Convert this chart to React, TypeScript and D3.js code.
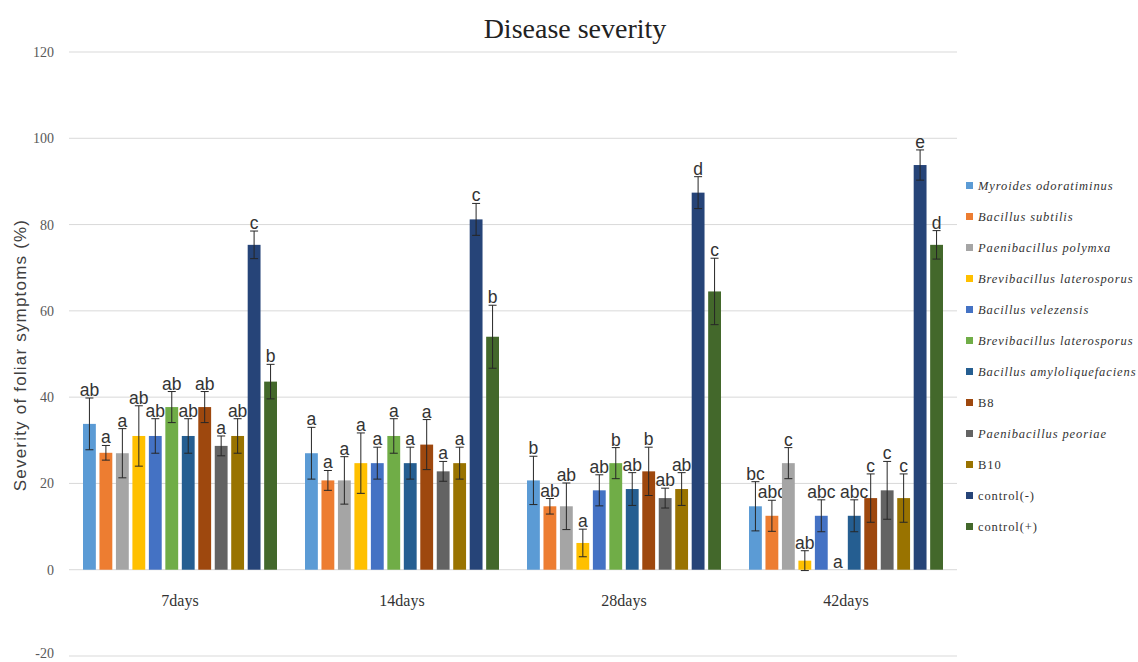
import React from "react";
import * as d3 from "d3";

// Sampling times (x categories)
const categories = ["7days", "14days", "28days", "42days"];

// Treatments, in plotting order
const seriesNames = [
  "Myroides odoratiminus",
  "Bacillus subtilis",
  "Paenibacillus polymxa",
  "Brevibacillus laterosporus",
  "Bacillus velezensis",
  "Brevibacillus laterosporus",
  "Bacillus amyloliquefaciens",
  "B8",
  "Paenibacillus peoriae",
  "B10",
  "control(-)",
  "control(+)",
];
const italicNames = [true, true, true, true, true, true, true, false, true, false, false, false];

const seriesColors = [
  "#5B9BD5", "#ED7D31", "#A5A5A5", "#FFC000", "#4472C4", "#70AD47",
  "#255E91", "#9E480E", "#636363", "#997300", "#264478", "#43682B",
];

// Mean severity (%) per treatment at each time point
const means7 = [33.8, 27.1, 27.0, 31.0, 31.0, 37.7, 31.0, 37.7, 28.7, 31.0, 75.3, 43.6];
const means14 = [27.0, 20.7, 20.7, 24.7, 24.7, 31.0, 24.7, 29.0, 22.8, 24.7, 81.2, 54.0];
const means28 = [20.7, 14.7, 14.7, 6.2, 18.4, 24.7, 18.7, 22.8, 16.6, 18.7, 87.4, 64.5];
const means42 = [14.7, 12.5, 24.7, 2.1, 12.5, 0, 12.5, 16.6, 18.4, 16.6, 93.8, 75.3];

// Standard errors
const err7 = [6.0, 1.7, 5.7, 7.0, 4.0, 3.6, 4.0, 3.6, 2.3, 4.0, 3.2, 4.0];
const err14 = [6.0, 2.3, 5.5, 7.0, 3.7, 4.0, 3.7, 5.8, 2.3, 3.7, 3.7, 7.3];
const err28 = [5.6, 1.8, 5.4, 3.2, 3.6, 3.6, 3.8, 5.6, 2.3, 3.8, 3.7, 7.7];
const err42 = [5.7, 3.6, 3.6, 2.3, 3.7, 0, 3.7, 5.6, 6.7, 5.6, 3.5, 3.3];

// Significance letters
const letters7 = ["ab", "a", "a", "ab", "ab", "ab", "ab", "ab", "a", "ab", "c", "b"];
const letters14 = ["a", "a", "a", "a", "a", "a", "a", "a", "a", "a", "c", "b"];
const letters28 = ["b", "ab", "ab", "a", "ab", "b", "ab", "b", "ab", "ab", "d", "c"];
const letters42 = ["bc", "abc", "c", "ab", "abc", "a", "abc", "c", "c", "c", "e", "d"];

const yTicks = [-20, 0, 20, 40, 60, 80, 100, 120];

const meansByCat = [means7, means14, means28, means42];
const errByCat = [err7, err14, err28, err42];
const lettersByCat = [letters7, letters14, letters28, letters42];

const W = 1138;
const H = 662;
const plotLeft = 69;
const plotRight = 957;

export default function App() {
  const y = d3.scaleLinear().domain([-20, 120]).range([656, 52]);
  const x0 = d3.scaleBand<string>().domain(categories).range([plotLeft, plotRight]);
  const x1 = d3
    .scaleBand<number>()
    .domain(d3.range(seriesNames.length))
    .range([14, 208])
    .paddingInner(0.22);

  const serif = "'Liberation Serif', 'DejaVu Serif', serif";
  const sans = "'Liberation Sans', Arial, sans-serif";

  return (
    <svg
      width={W}
      height={H}
      viewBox={`0 0 ${W} ${H}`}
      style={{ position: "absolute", left: 0, top: 0, background: "#fff" }}
    >
      <rect width={W} height={H} fill="#fff" />
      <text x={575} y={38} textAnchor="middle" fontFamily={serif} fontSize={28} fill="#222">
        Disease severity
      </text>

      {/* gridlines and y tick labels */}
      {yTicks.map((t) => (
        <g key={t}>
          <line x1={plotLeft} x2={plotRight} y1={y(t)} y2={y(t)} stroke="#D9D9D9" strokeWidth={1} />
          <text
            x={54}
            y={Math.min(y(t) + 5, 658)}
            textAnchor="end"
            fontFamily={serif}
            fontSize={14}
            fill="#595959"
          >
            {t}
          </text>
        </g>
      ))}

      <text
        transform={`translate(26, 355) rotate(-90)`}
        textAnchor="middle"
        fontFamily={sans}
        fontSize={17}
        letterSpacing={1.2}
        fill="#404040"
      >
        Severity of foliar symptoms (%)
      </text>

      {/* bars, error bars, letters */}
      {categories.map((c, ci) => (
        <g key={c} transform={`translate(${x0(c)},0)`}>
          {seriesNames.map((_, si) => {
            const v = meansByCat[ci][si];
            const e = errByCat[ci][si];
            const bx = x1(si)!;
            const bw = x1.bandwidth();
            const cx = bx + bw / 2;
            const top = y(v + e);
            const bot = y(v - e);
            return (
              <g key={si}>
                <rect x={bx} y={y(v)} width={bw} height={y(0) - y(v)} fill={seriesColors[si]} />
                {e > 0 && (
                  <g stroke="#262626" strokeWidth={1}>
                    <line x1={cx} x2={cx} y1={top} y2={bot} />
                    <line x1={cx - 4} x2={cx + 4} y1={top} y2={top} />
                    <line x1={cx - 4} x2={cx + 4} y1={bot} y2={bot} />
                  </g>
                )}
                <text
                  x={cx}
                  y={top - 2}
                  textAnchor="middle"
                  fontFamily={sans}
                  fontSize={17.5}
                  fill="#333"
                >
                  {lettersByCat[ci][si]}
                </text>
              </g>
            );
          })}
          <text
            x={x0.bandwidth() / 2}
            y={606}
            textAnchor="middle"
            fontFamily={serif}
            fontSize={16}
            fill="#333"
          >
            {c}
          </text>
        </g>
      ))}

      {/* legend */}
      {seriesNames.map((n, i) => {
        const ly = 190 + i * 31;
        return (
          <g key={i}>
            <rect x={966} y={ly - 8} width={7} height={7} fill={seriesColors[i]} />
            <text
              x={978}
              y={ly}
              fontFamily={serif}
              fontStyle={italicNames[i] ? "italic" : "normal"}
              fontSize={12.5}
              letterSpacing={0.9}
              fill="#333"
            >
              {n}
            </text>
          </g>
        );
      })}
    </svg>
  );
}
